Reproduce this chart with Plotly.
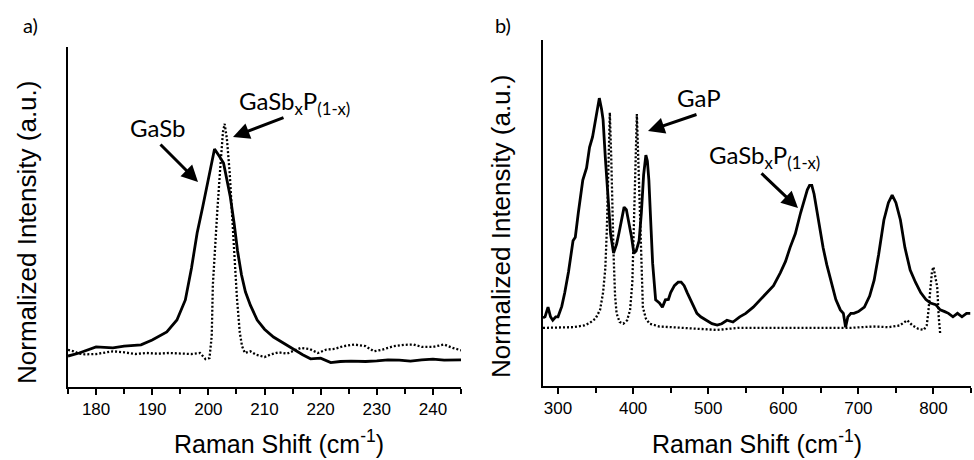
import plotly.graph_objects as go

# ---------------- data: panel a ----------------
a_gasb_x = [175, 177, 180, 183, 185, 188, 190, 192.6, 194.4, 195.9,
            197, 198, 199, 199.6, 200.4, 201.1, 201.9, 202.7, 203.3, 203.9,
            204.6, 205.2, 205.9, 206.6, 207.5, 208.7, 210, 211.6, 213.5, 215.2,
            216.8, 218.2, 220, 221.8, 223.5, 225.4, 228, 230, 232, 234,
            236, 238, 240, 242, 245]
a_gasb_y = [0.091, 0.10, 0.118, 0.115, 0.12, 0.124, 0.138, 0.162, 0.197, 0.256,
            0.35, 0.453, 0.53, 0.58, 0.64, 0.70, 0.68, 0.659, 0.61, 0.56,
            0.48, 0.40, 0.33, 0.28, 0.24, 0.197, 0.17, 0.147, 0.128, 0.11,
            0.095, 0.083, 0.085, 0.072, 0.075, 0.076, 0.075, 0.077, 0.08, 0.079,
            0.076, 0.08, 0.082, 0.079, 0.08]

a_alloy_x = [175, 176, 177, 178, 180, 181, 183, 185, 187, 189,
             191, 193, 195, 197, 198.5, 199.5, 200.2, 200.6, 200.8, 201.2,
             201.6, 202.1, 202.6, 202.9, 203.3, 203.8, 204.2, 204.6, 205.1, 205.6,
             206, 206.5, 207.5, 208.5, 210, 211, 212.5, 214, 215, 216.5,
             218, 219.5, 221, 222.5, 224, 226, 228, 229.5, 231, 233,
             235, 236.5, 238, 240, 242, 243.5, 245]
a_alloy_y = [0.109, 0.105, 0.098, 0.096, 0.097, 0.1, 0.105, 0.102, 0.097, 0.1,
             0.098, 0.1, 0.098, 0.097, 0.1, 0.082, 0.085, 0.15, 0.3, 0.43,
             0.52, 0.64, 0.75, 0.774, 0.73, 0.63, 0.53, 0.40, 0.26, 0.16,
             0.12, 0.1, 0.105, 0.095, 0.088, 0.095, 0.102, 0.098, 0.105, 0.115,
             0.112, 0.1, 0.11, 0.112, 0.12, 0.125, 0.12, 0.105, 0.11, 0.12,
             0.124, 0.125, 0.118, 0.118, 0.125, 0.115, 0.108]

# ---------------- data: panel b ----------------
b_sample_x = [280, 282.7, 286.7, 290, 293, 297, 300, 305, 309, 314,
              320, 323, 327, 333, 338, 342, 346, 349, 352, 355,
              358, 360, 363, 367, 370, 374, 378, 381, 385, 388,
              391, 394, 398, 401, 404, 408, 411, 414, 417, 419,
              421, 424, 426, 430, 435, 439, 443, 447, 450, 455,
              460, 464, 468, 472, 478, 485, 490, 498, 505, 512,
              518, 525, 533, 542, 550, 560, 570, 578, 587, 596,
              603, 609, 616, 623, 628, 632, 635, 638, 641, 645,
              649, 653, 658, 663, 670, 676, 680, 683, 686, 690,
              694, 700, 708, 715, 721, 727, 734, 740, 745, 750,
              756, 762, 769, 776, 783, 790, 796, 803, 809, 815,
              820, 826, 832, 838, 844, 849]
b_sample_y = [0.197, 0.2, 0.228, 0.2, 0.19, 0.2, 0.2, 0.23, 0.27, 0.33,
              0.42, 0.43, 0.5, 0.595, 0.63, 0.69, 0.72, 0.76, 0.79, 0.832,
              0.8, 0.77, 0.66, 0.52, 0.44, 0.384, 0.41, 0.44, 0.49, 0.517,
              0.51, 0.48, 0.43, 0.384, 0.39, 0.42, 0.5, 0.61, 0.667, 0.65,
              0.595, 0.45, 0.355, 0.249, 0.24, 0.228, 0.249, 0.25, 0.27, 0.29,
              0.3, 0.30, 0.29, 0.27, 0.24, 0.21, 0.2, 0.19, 0.18, 0.176,
              0.18, 0.19, 0.185, 0.2, 0.21, 0.228, 0.25, 0.27, 0.29, 0.327,
              0.36, 0.40, 0.44, 0.50, 0.54, 0.567, 0.58, 0.58, 0.555, 0.50,
              0.45, 0.40, 0.35, 0.306, 0.25, 0.22, 0.21, 0.17, 0.2, 0.21,
              0.21, 0.215, 0.228, 0.26, 0.306, 0.38, 0.48, 0.53, 0.552, 0.53,
              0.48, 0.40, 0.335, 0.3, 0.27, 0.25, 0.24, 0.235, 0.22, 0.215,
              0.21, 0.2, 0.21, 0.2, 0.21, 0.21]

b_gap_x = [280, 300, 320, 335, 342, 350, 356, 360, 363, 365,
           367, 369, 371, 373, 374, 376, 378, 382, 387, 392,
           396, 399, 401, 403, 405, 407, 409, 411, 413, 417,
           422, 435, 450, 480, 512, 540, 570, 600, 630, 660,
           690, 720, 740, 755, 765, 772, 780, 787, 791, 793,
           796, 798, 800, 802, 805, 807, 809]
b_gap_y = [0.168, 0.168, 0.17, 0.175, 0.182, 0.195, 0.22, 0.27, 0.34, 0.45,
           0.65, 0.79, 0.65, 0.45, 0.38, 0.26, 0.21, 0.185, 0.18, 0.19,
           0.22, 0.3, 0.45, 0.65, 0.786, 0.65, 0.50, 0.34, 0.228, 0.195,
           0.18, 0.172, 0.17, 0.165, 0.162, 0.168, 0.168, 0.17, 0.168, 0.17,
           0.168, 0.172, 0.17, 0.175, 0.19, 0.175, 0.165, 0.162, 0.175, 0.21,
           0.28, 0.33, 0.344, 0.32, 0.286, 0.2, 0.15]

assert len(a_gasb_x) == len(a_gasb_y)
assert len(a_alloy_x) == len(a_alloy_y)
assert len(b_sample_x) == len(b_sample_y)
assert len(b_gap_x) == len(b_gap_y)

a_ticks = [180, 190, 200, 210, 220, 230, 240]
b_ticks = [300, 400, 500, 600, 700, 800]

W, H = 974, 460
AX_FONT = "Liberation Sans, Arial, sans-serif"
ANN_FONT = "Lato, Open Sans, sans-serif"

solid = dict(color="black", width=2.8)
dotted = dict(color="black", width=2.3, dash="2px,2px")

fig = go.Figure()
fig.add_trace(go.Scatter(x=a_gasb_x, y=a_gasb_y, mode="lines", line=solid, xaxis="x", yaxis="y"))
fig.add_trace(go.Scatter(x=a_alloy_x, y=a_alloy_y, mode="lines", line=dotted, xaxis="x", yaxis="y"))
fig.add_trace(go.Scatter(x=b_sample_x, y=b_sample_y, mode="lines", line=solid, xaxis="x2", yaxis="y2"))
fig.add_trace(go.Scatter(x=b_gap_x, y=b_gap_y, mode="lines", line=dotted, xaxis="x2", yaxis="y2"))

def px(x):
    return x / W

def py(y):
    return 1 - y / H

xcommon = dict(showline=True, linecolor="black", linewidth=2, ticks="outside",
               ticklen=6, tickwidth=1.5, tickcolor="black", showgrid=False,
               zeroline=False, tickfont=dict(family=AX_FONT, size=17, color="black"))
minor_common = dict(ticks="outside", ticklen=5, tickwidth=1.5, tickcolor="black", showgrid=False)
ycommon = dict(showline=True, linecolor="black", linewidth=2, ticks="",
               showticklabels=False, showgrid=False, zeroline=False, range=[0, 1])

fig.update_layout(
    width=W, height=H, margin=dict(l=0, r=0, t=0, b=0),
    paper_bgcolor="white", plot_bgcolor="white", showlegend=False,
    xaxis=dict(domain=[px(68), px(461)], range=[175, 245], tickvals=a_ticks,
               anchor="y", minor=dict(tick0=175, dtick=5, **minor_common), **xcommon),
    yaxis=dict(domain=[py(387), py(47)], anchor="x", **ycommon),
    xaxis2=dict(domain=[px(543), px(971)], range=[280, 850], tickvals=b_ticks,
                anchor="y2", minor=dict(tick0=300, dtick=50, **minor_common), **xcommon),
    yaxis2=dict(domain=[py(386), py(40)], anchor="x2", **ycommon),
)

def text_ann(x, y, text, size, family=ANN_FONT, angle=0):
    fig.add_annotation(x=px(x), y=py(y), xref="paper", yref="paper", text=text,
                       showarrow=False, xanchor="center", yanchor="middle", textangle=angle,
                       font=dict(family=family, size=size, color="black"))

def arrow(tail, head):
    fig.add_annotation(x=px(head[0]), y=py(head[1]), xref="paper", yref="paper",
                       ax=tail[0] - head[0], ay=tail[1] - head[1], axref="pixel", ayref="pixel",
                       text="", showarrow=True, arrowhead=2, arrowsize=1.1, arrowwidth=3,
                       arrowcolor="black")

# panel labels
text_ann(30, 25, "a)", 20)
text_ann(503, 25, "b)", 20)

# axis titles
text_ann(279, 442, "Raman Shift (cm<sup>-1</sup>)", 25, family=AX_FONT)
text_ann(757, 442, "Raman Shift (cm<sup>-1</sup>)", 25, family=AX_FONT)
text_ann(27, 233, "Normalized Intensity (a.u.)", 26, family=AX_FONT, angle=-90)
text_ann(501, 227, "Normalized Intensity (a.u.)", 26, family=AX_FONT, angle=-90)

# peak labels
text_ann(157, 128, "GaSb", 24)
text_ann(294, 102, "GaSb<sub>x</sub>P<sub>(1-x)</sub>", 24)
text_ann(699, 97, "GaP", 24)
text_ann(764, 157, "GaSb<sub>x</sub>P<sub>(1-x)</sub>", 24)

arrow((159, 143), (198, 182))
arrow((285, 117), (233, 137))
arrow((698, 114), (648, 131))
arrow((760, 172), (798, 208))

fig.write_html("out.html", config={"displayModeBar": False},
               post_script="document.body.style.margin='0';document.body.style.overflow='hidden';")
